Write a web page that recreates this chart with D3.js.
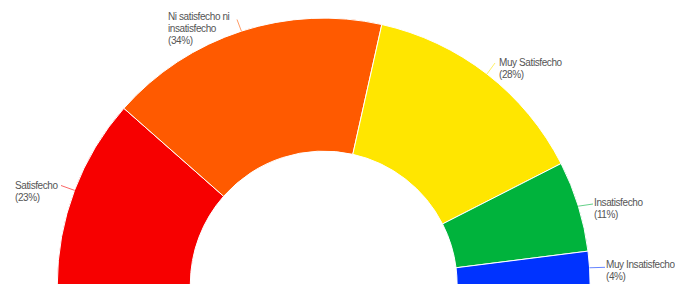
<!DOCTYPE html>
<html>
<head>
<meta charset="utf-8">
<script src="https://cdn.jsdelivr.net/npm/d3@7"></script>
<style>
	html, body { margin: 0; padding: 0; background: #fff; overflow: hidden; }
	svg { display: block; }
</style>
</head>
<body>
<div id="chart"></div>
<script>

// data
const categories = [ "Satisfecho", "Ni satisfecho ni insatisfecho", "Muy Satisfecho", "Insatisfecho", "Muy Insatisfecho" ];
const values = [ 23, 34, 28, 11, 4 ];
const pct_labels = [ "(23%)", "(34%)", "(28%)", "(11%)", "(4%)" ];
const colors = [ "#f70000", "#ff5a00", "#ffe600", "#00b33c", "#0033ff" ];

// label layout (text lines + where the label block sits)
const label_lines = [
	[ "Satisfecho" ],
	[ "Ni satisfecho ni", "insatisfecho" ],
	[ "Muy Satisfecho" ],
	[ "Insatisfecho" ],
	[ "Muy Insatisfecho" ]
];
const label_pos = [
	{ x: 15, y: 189, lx: 61, ly: 185.5 },
	{ x: 168, y: 19.5, lx: 237, ly: 19.5 },
	{ x: 499, y: 65.5, lx: 495, ly: 63 },
	{ x: 594, y: 205.5, lx: 593, ly: 204 },
	{ x: 606, y: 267.5, lx: 605, ly: 267.3 }
];

///////////////////////////////////////////////////////////////////////

const width = 675, height = 284;
const cx = 323.7, cy = 284.5;
const outer = 266.4, inner = 133.4;
const line_h = 12;

let svg = d3.select( "#chart" )
	.append( "svg" )
	.attr( "width", width )
	.attr( "height", height );

let pie = d3.pie()
	.sort( null )
	.startAngle( -Math.PI / 2 )
	.endAngle( Math.PI / 2 )
	.value( d => d );

let arcs = pie( values );

let arc = d3.arc()
	.innerRadius( inner )
	.outerRadius( outer );

let g = svg.append( "g" )
	.attr( "transform", "translate(" + cx + "," + cy + ")" );

g.selectAll( "path" )
	.data( arcs )
	.join( "path" )
		.attr( "d", arc )
		.attr( "fill", ( d, i ) => colors[ i ] )
		.attr( "stroke", "#fff" )
		.attr( "stroke-width", 1 );

// leader lines: from the mid angle on the outer edge to the label
svg.selectAll( "line.leader" )
	.data( arcs )
	.join( "line" )
		.attr( "class", "leader" )
		.attr( "x1", d => cx + outer * Math.sin( ( d.startAngle + d.endAngle ) / 2 ) )
		.attr( "y1", d => cy - outer * Math.cos( ( d.startAngle + d.endAngle ) / 2 ) )
		.attr( "x2", ( d, i ) => label_pos[ i ].lx )
		.attr( "y2", ( d, i ) => label_pos[ i ].ly )
		.attr( "stroke", ( d, i ) => colors[ i ] )
		.attr( "stroke-opacity", 0.6 )
		.attr( "stroke-width", 1 );

let labels = svg.selectAll( "text.lab" )
	.data( categories )
	.join( "text" )
		.attr( "class", "lab" )
		.attr( "x", ( d, i ) => label_pos[ i ].x )
		.attr( "y", ( d, i ) => label_pos[ i ].y )
		.attr( "font-family", "Arial, 'Liberation Sans', sans-serif" )
		.attr( "font-size", "10px" )
		.attr( "letter-spacing", "-0.4px" )
		.attr( "fill", "#555" );

labels.each( function( d, i ) {
	let t = d3.select( this );
	let lines = label_lines[ i ].concat( [ pct_labels[ i ] ] );
	lines.forEach( ( s, k ) => {
		t.append( "tspan" )
			.attr( "x", label_pos[ i ].x )
			.attr( "dy", k ? line_h : 0 )
			.text( s );
	} );
} );

</script>
</body>
</html>
